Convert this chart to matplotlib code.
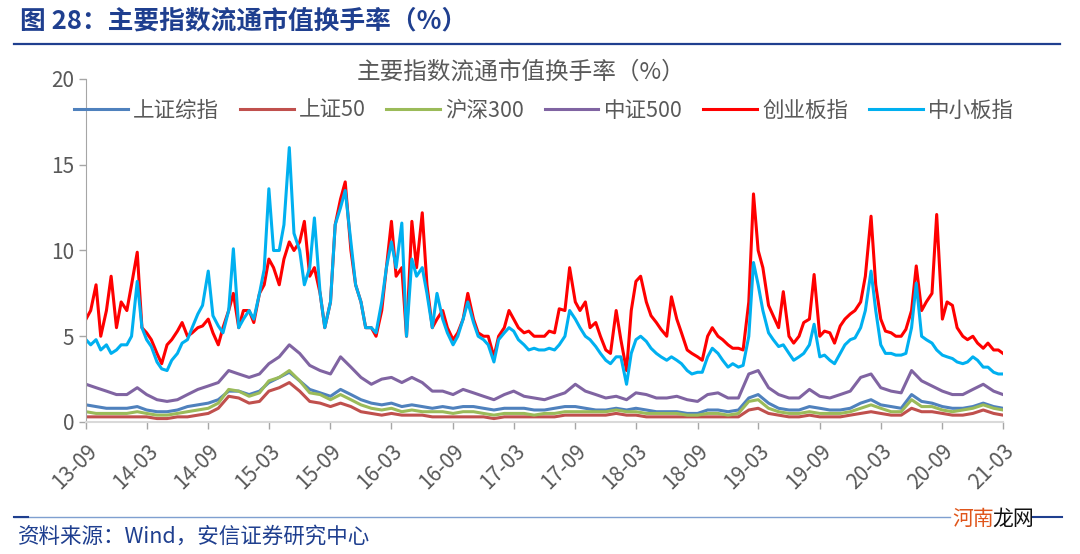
import matplotlib
matplotlib.use('Agg')
import matplotlib.pyplot as plt
import matplotlib.dates as mdates
import pandas as pd

plt.rcParams['font.family'] = ['Noto Sans CJK SC', 'DejaVu Sans']

# 半月数据 (创业板指, 中小板指), 2013-09 ~ 2021-03
half_dates = pd.date_range('2013-09-01', '2021-03-01', freq='SMS')
# 月度数据 (其余四个指数)
month_dates = pd.date_range('2013-09-01', '2021-03-01', freq='MS')

cyb = [6.0, 6.5, 8.0, 5.0, 6.5, 8.5, 5.5, 7.0, 6.5, 8.0, 9.9, 5.5, 5.2, 4.8, 4.0, 3.4, 4.5, 4.8, 5.3, 5.8, 5.0, 5.2, 5.5, 5.6,
       6.0, 5.2, 4.5, 5.5, 6.5, 7.5, 5.5, 6.5, 6.5, 5.8, 7.5, 8.0, 9.5, 9.0, 8.0, 9.5, 10.5, 10.0, 10.5, 11.7, 8.5, 9.0, 7.5, 5.5,
       7.0, 11.5, 13.0, 14.0, 10.0, 8.0, 7.0, 5.5, 5.5, 5.0, 6.5, 9.0, 11.7, 8.5, 9.0, 5.0, 11.7, 9.0, 12.2, 8.0, 5.5, 6.0, 6.5, 5.5,
       4.8, 5.2, 6.0, 7.5, 6.0, 5.2, 5.0, 5.0, 3.8, 5.0, 5.5, 6.5, 6.0, 5.5, 5.2, 5.3, 5.0, 5.0, 5.0, 5.3, 5.2, 6.6, 6.5, 9.0,
       7.0, 6.5, 7.0, 5.5, 5.8, 5.0, 4.2, 4.0, 6.5, 4.8, 3.0, 6.5, 8.2, 8.5, 7.0, 6.2, 5.8, 5.4, 5.0, 7.3, 6.0, 5.2, 4.2, 4.0,
       3.8, 3.6, 5.0, 5.5, 5.0, 4.8, 4.5, 4.3, 4.3, 4.2, 7.0, 13.3, 10.0, 9.0, 6.8, 6.2, 5.5, 7.6, 5.0, 4.6, 5.0, 5.8, 6.0, 8.6,
       5.0, 5.3, 5.2, 4.6, 5.6, 6.0, 6.3, 6.5, 7.0, 8.5, 12.0, 8.0, 6.0, 5.3, 5.2, 5.0, 5.0, 5.4, 6.5, 9.1, 6.5, 7.0, 7.5, 12.1,
       6.0, 7.0, 6.8, 5.5, 5.0, 4.8, 5.0, 4.6, 4.3, 4.6, 4.2, 4.2, 4.0]

zxb = [4.8, 4.5, 4.8, 4.2, 4.5, 4.0, 4.2, 4.5, 4.5, 5.0, 8.2, 5.5, 4.8, 4.4, 3.5, 3.1, 3.0, 3.6, 4.0, 4.6, 4.8, 5.5, 6.3, 6.8,
       8.8, 6.2, 5.6, 5.2, 6.5, 10.1, 5.5, 6.0, 6.5, 6.0, 7.5, 8.9, 13.6, 10.0, 10.0, 11.5, 16.0, 11.0, 10.0, 8.0, 9.0, 11.9, 7.5, 5.5,
       7.0, 11.5, 12.5, 13.5, 10.5, 8.0, 7.0, 5.5, 5.5, 5.2, 7.0, 9.0, 10.5, 9.0, 11.6, 5.0, 9.5, 8.5, 9.0, 7.5, 5.5, 7.5, 6.0, 5.2,
       4.5, 5.0, 6.0, 7.0, 5.8, 5.0, 4.8, 4.5, 3.5, 4.8, 5.2, 5.5, 5.3, 4.8, 4.5, 4.2, 4.3, 4.2, 4.2, 4.3, 4.2, 4.5, 5.0, 6.5,
       6.0, 5.5, 5.0, 4.8, 4.4, 4.0, 3.6, 3.4, 3.8, 3.8, 2.2, 4.0, 4.8, 5.0, 4.7, 4.3, 4.0, 3.8, 3.6, 3.8, 3.6, 3.4, 3.0, 2.8,
       2.9, 2.9, 3.8, 4.3, 4.0, 3.6, 3.2, 3.4, 3.2, 3.3, 5.0, 9.3, 8.0, 6.5, 5.2, 4.8, 4.4, 4.5, 4.0, 3.6, 3.8, 4.0, 4.5, 5.7,
       3.8, 3.9, 3.6, 3.4, 4.0, 4.5, 4.8, 4.9, 5.5, 6.5, 8.8, 6.5, 4.5, 4.0, 4.0, 3.9, 3.9, 4.0, 5.5, 8.1, 5.0, 4.8, 4.6, 4.2,
       3.9, 3.8, 3.7, 3.5, 3.4, 3.5, 3.8, 3.6, 3.2, 3.2, 2.9, 2.8, 2.8]

szzz = [1.0, 0.9, 0.8, 0.8, 0.8, 0.9, 0.7, 0.6, 0.6, 0.7, 0.9, 1.0,
        1.1, 1.3, 1.8, 1.8, 1.6, 1.8, 2.3, 2.6, 2.9, 2.4, 1.9, 1.7,
        1.5, 1.9, 1.6, 1.3, 1.1, 1.0, 1.1, 0.9, 1.0, 0.9, 0.8, 0.9,
        0.8, 0.9, 0.9, 0.8, 0.7, 0.8, 0.8, 0.8, 0.7, 0.7, 0.8, 0.9,
        0.9, 0.8, 0.7, 0.7, 0.8, 0.7, 0.8, 0.7, 0.6, 0.6, 0.6, 0.5,
        0.5, 0.7, 0.7, 0.6, 0.7, 1.4, 1.6, 1.1, 0.8, 0.7, 0.7, 0.9,
        0.8, 0.7, 0.7, 0.8, 1.1, 1.3, 1.0, 0.9, 0.8, 1.6, 1.2, 1.1,
        0.9, 0.8, 0.8, 0.9, 1.1, 0.9, 0.8]

sz50 = [0.3, 0.3, 0.3, 0.3, 0.3, 0.3, 0.3, 0.2, 0.2, 0.3, 0.3, 0.4,
        0.5, 0.8, 1.5, 1.4, 1.1, 1.2, 1.8, 2.0, 2.3, 1.8, 1.2, 1.1,
        0.9, 1.1, 0.9, 0.6, 0.5, 0.4, 0.5, 0.4, 0.4, 0.4, 0.3, 0.3,
        0.3, 0.3, 0.3, 0.3, 0.2, 0.3, 0.3, 0.3, 0.3, 0.3, 0.3, 0.4,
        0.4, 0.4, 0.4, 0.4, 0.5, 0.4, 0.4, 0.3, 0.3, 0.3, 0.3, 0.3,
        0.3, 0.3, 0.3, 0.3, 0.3, 0.7, 0.8, 0.5, 0.4, 0.3, 0.3, 0.4,
        0.3, 0.3, 0.3, 0.4, 0.5, 0.6, 0.5, 0.4, 0.4, 0.8, 0.6, 0.6,
        0.5, 0.4, 0.4, 0.5, 0.7, 0.5, 0.4]

hs300 = [0.6, 0.5, 0.5, 0.5, 0.5, 0.6, 0.5, 0.4, 0.4, 0.5, 0.6, 0.7,
         0.8, 1.1, 1.9, 1.8, 1.5, 1.7, 2.4, 2.6, 3.0, 2.4, 1.7, 1.6,
         1.3, 1.6, 1.3, 1.0, 0.8, 0.7, 0.8, 0.6, 0.7, 0.6, 0.6, 0.6,
         0.5, 0.6, 0.6, 0.5, 0.4, 0.5, 0.5, 0.5, 0.4, 0.5, 0.5, 0.6,
         0.6, 0.6, 0.6, 0.6, 0.7, 0.6, 0.6, 0.5, 0.5, 0.5, 0.5, 0.4,
         0.4, 0.5, 0.5, 0.4, 0.5, 1.2, 1.3, 0.8, 0.6, 0.5, 0.5, 0.6,
         0.5, 0.5, 0.5, 0.6, 0.8, 1.0, 0.8, 0.6, 0.6, 1.3, 0.9, 0.9,
         0.7, 0.6, 0.7, 0.8, 1.0, 0.8, 0.7]

zz500 = [2.2, 2.0, 1.8, 1.6, 1.6, 2.0, 1.6, 1.3, 1.2, 1.3, 1.6, 1.9,
         2.1, 2.3, 3.0, 2.8, 2.6, 2.8, 3.4, 3.8, 4.5, 4.0, 3.3, 3.0,
         2.8, 3.8, 3.2, 2.6, 2.2, 2.5, 2.6, 2.3, 2.6, 2.3, 1.8, 1.8,
         1.6, 1.9, 1.7, 1.5, 1.3, 1.6, 1.8, 1.5, 1.4, 1.3, 1.5, 1.7,
         2.2, 1.8, 1.6, 1.4, 1.5, 1.3, 1.7, 1.6, 1.4, 1.4, 1.5, 1.3,
         1.2, 1.6, 1.7, 1.4, 1.4, 2.8, 3.0, 2.0, 1.6, 1.4, 1.4, 1.9,
         1.5, 1.4, 1.6, 1.8, 2.6, 2.8, 2.0, 1.8, 1.7, 3.0, 2.4, 2.1,
         1.8, 1.6, 1.6, 1.9, 2.2, 1.8, 1.6]

names = ['上证综指', '上证50', '沪深300', '中证500', '创业板指', '中小板指']
colors = ['#4F81BD', '#C0504D', '#9BBB59', '#8064A2', '#FF0000', '#00B0F0']
gray = '#595959'
navy = '#1F3F8F'

fig = plt.figure(figsize=(10.8, 5.54), dpi=100)
ax = fig.add_axes([86 / 1080, 1 - 422 / 554, 917 / 1080, 343 / 554])

series = [(month_dates, szzz), (month_dates, sz50), (month_dates, hs300),
          (month_dates, zz500), (half_dates, cyb), (half_dates, zxb)]
for (d, v), name, c in zip(series, names, colors):
    ax.plot(d, v, color=c, lw=2.2, label=name)

ax.set_ylim(0, 20)
ax.set_yticks([0, 5, 10, 15, 20])
ax.set_xlim(pd.Timestamp('2013-09-01'), pd.Timestamp('2021-03-01'))
ax.xaxis.set_major_locator(mdates.MonthLocator(bymonth=[3, 9]))
ax.xaxis.set_major_formatter(mdates.DateFormatter('%y-%m'))
for lab in ax.get_xticklabels():
    lab.set_rotation(45)
    lab.set_ha('right')
    lab.set_rotation_mode('anchor')
ax.tick_params(axis='both', labelsize=15, colors='#A6A6A6', labelcolor=gray, length=5, width=1)
ax.tick_params(axis='x', pad=8)
for s in ['top', 'right']:
    ax.spines[s].set_visible(False)
ax.spines['left'].set_color('#A6A6A6')
ax.spines['bottom'].set_color('#D9D9D9')
ax.spines['bottom'].set_linewidth(1.5)

fig.text(521 / 1080, 1 - 72 / 554, '主要指数流通市值换手率（%）', ha='center', va='center',
         fontsize=17, color=gray)
fig.legend(loc='center', bbox_to_anchor=(544 / 1080, 1 - 111 / 554), ncol=6, frameon=False,
           fontsize=15.5, handlelength=2.5, handletextpad=0.25, columnspacing=0.95,
           labelcolor=gray)

# 顶部标题
fig.text(20 / 1080, 1 - 21 / 554, '图 28：主要指数流通市值换手率（%）', ha='left', va='center',
         fontsize=18.5, fontweight='bold', color=navy)
fig.add_artist(plt.Line2D([14 / 1080, 1060 / 1080], [1 - 44 / 554] * 2, color=navy, lw=1.6))

# 底部来源
fig.add_artist(plt.Line2D([14 / 1080, 950 / 1080], [1 - 517 / 554] * 2, color='#7F9FD0', lw=1.0))
fig.add_artist(plt.Line2D([14 / 1080, 28 / 1080], [1 - 517 / 554] * 2, color=navy, lw=1.5))
fig.add_artist(plt.Line2D([1033 / 1080, 1062 / 1080], [1 - 517 / 554] * 2, color=navy, lw=1.5))
fig.text(18 / 1080, 1 - 537 / 554, '资料来源：Wind，安信证券研究中心', ha='left', va='center',
         fontsize=15.5, color=navy, style='italic')
fig.text(952 / 1080, 1 - 519 / 554, '河南', ha='left', va='center', fontsize=15, color='#E0561B')
fig.text(992 / 1080, 1 - 519 / 554, '龙网', ha='left', va='center', fontsize=15, color='#111111')

fig.savefig('out.png', dpi=100)
